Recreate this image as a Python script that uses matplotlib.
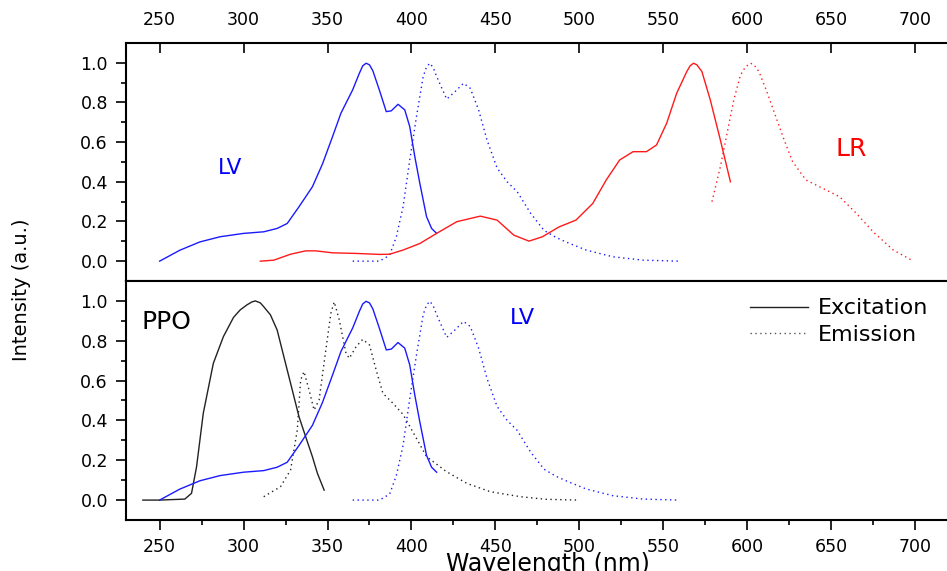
import matplotlib
matplotlib.use("Agg")
import matplotlib.pyplot as plt
from matplotlib.ticker import MultipleLocator, FixedLocator
from matplotlib.lines import Line2D

# LV excitation / emission (same curves in both panels)
lv_ex_nm = [250, 262, 274, 286, 300, 312, 320, 326, 333, 341, 347, 353, 358, 365, 369, 371,
            373, 375, 377, 381, 385, 388, 392, 396, 399, 402, 405, 409, 412, 415]
lv_ex_val = [0.0, 0.055, 0.097, 0.123, 0.14, 0.148, 0.165, 0.19, 0.274, 0.375, 0.49, 0.628,
             0.746, 0.864, 0.948, 0.985, 0.998, 0.99, 0.96, 0.86, 0.754, 0.758, 0.791, 0.763,
             0.678, 0.527, 0.392, 0.224, 0.165, 0.14]
lv_em_nm = [365, 381, 387, 391, 395, 399, 403, 407, 409, 411, 413, 415, 421, 426, 431, 435,
            440, 445, 451, 457, 463, 471, 479, 486, 492, 504, 520, 538, 559]
lv_em_val = [0.0, 0.0, 0.03, 0.123, 0.274, 0.51, 0.729, 0.931, 0.98, 0.998, 0.975, 0.931,
             0.817, 0.855, 0.897, 0.872, 0.763, 0.611, 0.47, 0.40, 0.35, 0.241, 0.155, 0.12,
             0.097, 0.056, 0.022, 0.005, 0.0]

# LR excitation / emission (top panel)
lr_ex_nm = [310, 318, 328, 337, 343, 353, 367, 381, 387, 395, 405, 415, 427, 441, 451, 461,
            470, 478, 488, 498, 508, 516, 524, 532, 540, 546, 552, 558, 564, 566, 568, 570,
            573, 578, 584, 590]
lr_ex_val = [0.0, 0.005, 0.035, 0.052, 0.052, 0.042, 0.039, 0.034, 0.035, 0.056, 0.089, 0.14,
             0.199, 0.227, 0.207, 0.131, 0.101, 0.123, 0.173, 0.207, 0.291, 0.409, 0.51, 0.552,
             0.552, 0.586, 0.695, 0.847, 0.956, 0.985, 0.998, 0.99, 0.956, 0.813, 0.611, 0.40]
lr_em_nm = [579, 584, 588, 592, 596, 599, 602, 604, 607, 612, 617, 622, 627, 635, 645, 655,
            665, 675, 687, 699]
lr_em_val = [0.30, 0.476, 0.645, 0.813, 0.939, 0.98, 0.998, 0.99, 0.956, 0.847, 0.729, 0.611,
             0.502, 0.409, 0.367, 0.325, 0.241, 0.148, 0.056, 0.0]

# PPO excitation / emission (bottom panel)
ppo_ex_nm = [240, 250, 265, 269, 272, 276, 282, 288, 294, 298, 302, 305, 307, 310, 312, 316,
             320, 324, 329, 333, 337, 341, 344, 348]
ppo_ex_val = [0.0, 0.0, 0.005, 0.034, 0.167, 0.436, 0.687, 0.821, 0.917, 0.955, 0.98, 0.995,
              1.0, 0.99, 0.971, 0.93, 0.854, 0.72, 0.553, 0.419, 0.318, 0.218, 0.134, 0.05]
ppo_em_nm = [312, 322, 328, 332, 334, 336, 339, 342, 345, 349, 352, 354, 357, 361, 363, 367,
             371, 375, 379, 383, 389, 395, 401, 409, 421, 433, 447, 465, 480, 500]
ppo_em_val = [0.017, 0.067, 0.151, 0.352, 0.603, 0.645, 0.553, 0.452, 0.503, 0.754, 0.938,
              0.995, 0.905, 0.737, 0.712, 0.77, 0.807, 0.779, 0.653, 0.536, 0.486, 0.43, 0.34,
              0.218, 0.142, 0.084, 0.042, 0.017, 0.004, 0.0]

x_ticks = [250, 300, 350, 400, 450, 500, 550, 600, 650, 700]
y_ticks = [0.0, 0.2, 0.4, 0.6, 0.8, 1.0]
y_minor = [0.1, 0.3, 0.5, 0.7, 0.9]

BLUE = "#1a1aff"
RED = "#ff1a1a"
DARK = "#222222"
DOT = (0, (1, 2.5))

fig = plt.figure(figsize=(9.47, 5.71), dpi=100)
axTop = fig.add_axes([0.1331, 0.5079, 0.8669, 0.4168])
axBot = fig.add_axes([0.1331, 0.0893, 0.8669, 0.4186])

for ax in (axTop, axBot):
    ax.set_xlim(230, 719)
    ax.set_ylim(-0.1, 1.1)
    ax.spines["right"].set_visible(False)
    for s in ("top", "bottom", "left"):
        ax.spines[s].set_linewidth(1.5)
    ax.yaxis.set_major_locator(FixedLocator(y_ticks))
    ax.yaxis.set_minor_locator(FixedLocator(y_minor))
    ax.set_yticklabels(["%.1f" % v for v in y_ticks])
    ax.tick_params(axis="y", which="major", direction="out", length=7, width=1.2,
                   labelsize=12.5, pad=6)
    ax.tick_params(axis="y", which="minor", direction="out", length=3.5, width=1.2)

# top panel: x ticks on top, inward
axTop.xaxis.set_major_locator(FixedLocator(x_ticks))
axTop.xaxis.tick_top()
axTop.tick_params(axis="x", which="major", direction="in", length=7, width=1.2,
                  labelsize=12.5, pad=10, top=True, bottom=False)

# bottom panel: x ticks at bottom, outward
axBot.xaxis.set_major_locator(FixedLocator(x_ticks))
axBot.xaxis.set_minor_locator(MultipleLocator(25))
axBot.tick_params(axis="x", which="major", direction="out", length=7, width=1.2,
                  labelsize=12.5, pad=6, top=False)
axBot.tick_params(axis="x", which="minor", direction="out", length=3.5, width=1.2, top=False)

# top panel curves
axTop.plot(lv_ex_nm, lv_ex_val, color=BLUE, lw=1)
axTop.plot(lv_em_nm, lv_em_val, color=BLUE, lw=1, linestyle=DOT)
axTop.plot(lr_ex_nm, lr_ex_val, color=RED, lw=1)
axTop.plot(lr_em_nm, lr_em_val, color=RED, lw=1, linestyle=DOT)
axTop.text(292, 0.47, "LV", color="blue", fontsize=15.5, ha="center", va="center")
axTop.text(662, 0.566, "LR", color="red", fontsize=18, ha="center", va="center")

# bottom panel curves
axBot.plot(ppo_ex_nm, ppo_ex_val, color=DARK, lw=1)
axBot.plot(ppo_em_nm, ppo_em_val, color=DARK, lw=1, linestyle=DOT)
axBot.plot(lv_ex_nm, lv_ex_val, color=BLUE, lw=1)
axBot.plot(lv_em_nm, lv_em_val, color=BLUE, lw=1, linestyle=DOT)
axBot.text(254, 0.894, "PPO", color="black", fontsize=18, ha="center", va="center")
axBot.text(466, 0.915, "LV", color="blue", fontsize=16, ha="center", va="center")

handles = [Line2D([], [], color=DARK, lw=1),
           Line2D([], [], color="#555555", lw=1, linestyle=DOT)]
axBot.legend(handles, ["Excitation", "Emission"], loc="upper left",
             bbox_to_anchor=(0.760, 0.927), frameon=False, fontsize=16,
             handlelength=2.6, handletextpad=0.45, labelspacing=0.3, borderpad=0,
             borderaxespad=0)

fig.text(0.023, 0.492, "Intensity (a.u.)", rotation=90, ha="center", va="center",
         fontsize=14)
fig.text(0.579, 0.0, "Wavelength (nm)", ha="center", va="baseline", fontsize=17)

fig.savefig("out.png", dpi=100)
